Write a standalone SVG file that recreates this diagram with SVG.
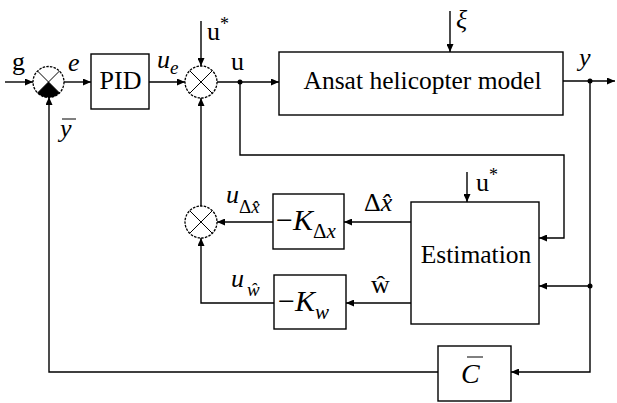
<svg xmlns="http://www.w3.org/2000/svg" width="617" height="403" viewBox="0 0 617 403">
<defs>
<marker id="arr" markerWidth="9" markerHeight="7" refX="8" refY="3.5" orient="auto" markerUnits="userSpaceOnUse">
<path d="M0,0 L8,3.5 L0,7 z" fill="#000"/>
</marker>
<style>
.box{fill:#fff;stroke:#000;stroke-width:1.4}
.ln{fill:none;stroke:#000;stroke-width:1.4}
.cn{fill:none;stroke:#000;stroke-width:1.4;marker-end:url(#arr)}
.sc{fill:#fff;stroke:#000;stroke-width:1.3;stroke-dasharray:2.5 1.2}
.x{stroke:#000;stroke-width:1}
.t{font-family:"Liberation Serif","Times New Roman",serif;fill:#000}
.i{font-style:italic}
</style>
</defs>
<rect width="617" height="403" fill="#fff"/>
<g id="connectors">
<path class="cn" d="M5,82 H33"/>
<path class="cn" d="M64,82 H91"/>
<path class="cn" d="M149,82 H185"/>
<path class="cn" d="M201,21 V66"/>
<path class="cn" d="M217,82 H279"/>
<path class="cn" d="M450,11 V52"/>
<path class="cn" d="M563,81 H615"/>
<path class="cn" d="M240,82 V155 H564 V238 H539"/>
<path class="cn" d="M590,81 V372 H511"/>
<path class="cn" d="M590,286 H539"/>
<path class="cn" d="M438,372 H49 V97"/>
<path class="cn" d="M467,172 V202"/>
<path class="cn" d="M411,222 H344"/>
<path class="cn" d="M273,222 H217"/>
<path class="cn" d="M411,303 H346"/>
<path class="cn" d="M274,303 H201 V238"/>
<path class="cn" d="M201,206 V98"/>
<circle cx="240" cy="82" r="2.5" fill="#000"/>
<circle cx="590" cy="81" r="2.5" fill="#000"/>
<circle cx="590" cy="286" r="2.5" fill="#000"/>
</g>
<g id="sum1">
<circle class="sc" cx="48.5" cy="82" r="15.5"/>
<path d="M48.5,82 L37.5,93 A15.5,15.5 0 0 0 59.5,93 Z" fill="#000"/>
<path class="x" d="M37.5,71 L59.5,93 M59.5,71 L37.5,93"/>
</g>
<g id="sum2">
<circle class="sc" cx="201" cy="82" r="16"/>
<path class="x" d="M189.7,70.7 L212.3,93.3 M212.3,70.7 L189.7,93.3"/>
</g>
<g id="sum3">
<circle class="sc" cx="201" cy="222" r="16"/>
<path class="x" d="M189.7,210.7 L212.3,233.3 M212.3,210.7 L189.7,233.3"/>
</g>
<g id="pid">
<rect class="box" x="91" y="54" width="58" height="55"/>
<text class="t" x="120.5" y="89" font-size="26" text-anchor="middle">PID</text>
</g>
<g id="ansat">
<rect class="box" x="279" y="52" width="284" height="63"/>
<text class="t" x="422.5" y="89" font-size="25.5" text-anchor="middle">Ansat helicopter model</text>
</g>
<g id="estimation">
<rect class="box" x="411" y="202" width="128" height="122"/>
<text class="t" x="476" y="263" font-size="25.5" text-anchor="middle">Estimation</text>
</g>
<g id="kdx">
<rect class="box" x="273" y="194" width="71" height="55"/>
<text class="t" x="276" y="230" font-size="30">−<tspan class="i">K</tspan><tspan font-size="21" dy="8">Δ</tspan><tspan class="i" font-size="21">x</tspan></text>
</g>
<g id="kw">
<rect class="box" x="274" y="275" width="72" height="54"/>
<text class="t" x="278" y="311" font-size="30">−<tspan class="i">K</tspan><tspan class="i" font-size="21" dy="8">w</tspan></text>
</g>
<g id="cbar">
<rect class="box" x="438" y="346" width="73" height="55"/>
<text class="t i" x="461" y="383" font-size="28">C</text>
<line class="x" x1="467" y1="357" x2="483" y2="357"/>
</g>
<g id="labels">
<text class="t" x="12" y="70" font-size="26">g</text>
<text class="t i" x="68" y="71" font-size="26">e</text>
<text class="t i" x="157" y="68" font-size="26">u<tspan font-size="19" dy="6">e</tspan></text>
<text class="t" x="207" y="40" font-size="26">u<tspan font-size="18" dy="-10">*</tspan></text>
<text class="t" x="231" y="70" font-size="26">u</text>
<text class="t i" x="456" y="28" font-size="26">ξ</text>
<text class="t i" x="579" y="66" font-size="26">y</text>
<text class="t i" x="60" y="137" font-size="26">y</text>
<line class="x" x1="62" y1="119" x2="76" y2="119"/>
<text class="t" x="476" y="191" font-size="26">u<tspan font-size="18" dy="-10">*</tspan></text>
<text class="t i" x="226" y="203" font-size="26">u<tspan font-style="normal" font-size="19" dy="10">Δ</tspan><tspan font-size="19">x̂</tspan></text>
<text class="t" x="364" y="211" font-size="26">Δ<tspan class="i">x̂</tspan></text>
<text class="t i" x="231" y="287" font-size="26">u<tspan font-size="19" dx="3" dy="9">ŵ</tspan></text>
<text class="t" x="371" y="293" font-size="26">ŵ</text>
</g>
</svg>
